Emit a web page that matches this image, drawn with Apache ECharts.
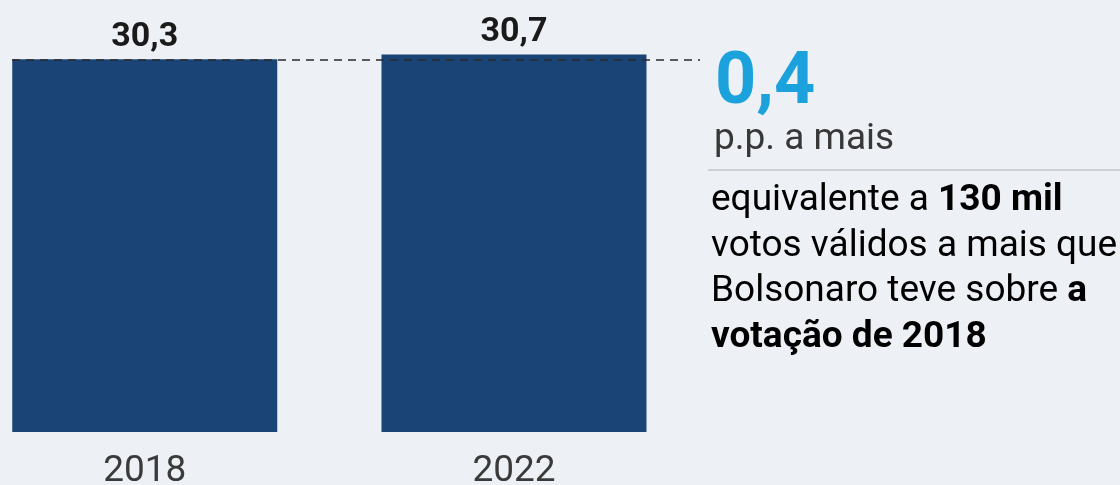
<!DOCTYPE html>
<html>
<head>
<meta charset="utf-8">
<style>
  html, body { margin: 0; padding: 0; background: #edf0f4; }
  #chart { width: 1120px; height: 485px; }
</style>
<script src="https://cdn.jsdelivr.net/npm/echarts@6/dist/echarts.min.js"></script>
</head>
<body>
<div id="chart"></div>
<script>
// ---- data ----
const categories = ['2018', '2022'];
const values = [30.3, 30.7];
const unitText = 'p.p. a mais';
const noteLines = [
  [{ t: 'equivalente a ', b: false }, { t: '130 mil', b: true }],
  [{ t: 'votos válidos a mais que', b: false }],
  [{ t: 'Bolsonaro teve sobre ', b: false }, { t: 'a', b: true }],
  [{ t: 'votação de 2018', b: true }]
];

const fmt = v => String(v).replace('.', ',');
const diffText = fmt((values[1] - values[0]).toFixed(1));
const catIndex = categories.map((c, i) => i);

const FONT = 'Roboto, "Noto Sans", sans-serif';
const chart = echarts.init(document.getElementById('chart'));

const noteGraphics = noteLines.map((parts, i) => ({
  type: 'text',
  left: 711,
  top: 200.6 + i * 45.7 - 18.5,
  silent: true,
  style: {
    text: parts.map(p => (p.b ? '{b|' : '{n|') + p.t + '}').join(''),
    rich: {
      n: { fontFamily: FONT, fontSize: 37, lineHeight: 37, color: '#383838' },
      b: { fontFamily: FONT, fontSize: 37, lineHeight: 37, fontWeight: 'bold', color: '#2a2a2a' }
    }
  }
}));

chart.setOption({
  backgroundColor: '#edf0f4',
  animation: false,
  grid: { left: 0, right: 421.4, top: 38.4, bottom: 53, containLabel: false, outerBoundsMode: 'none' },
  xAxis: {
    type: 'value',
    min: -0.392,
    max: 1.5,
    splitLine: { show: false },
    axisLine: { show: false },
    axisTick: { show: false },
    axisLabel: {
      customValues: catIndex,
      formatter: v => categories[Math.round(v)] || '',
      margin: 21,
      fontFamily: FONT,
      fontSize: 37,
      lineHeight: 37,
      color: '#3a3a3a'
    }
  },
  yAxis: {
    type: 'value',
    min: 0,
    max: 32,
    show: false,
    splitLine: { show: false }
  },
  series: [{
    type: 'bar',
    data: values.map((v, i) => [catIndex[i], v]),
    barWidth: 265,
    itemStyle: { color: '#1b4476' },
    label: {
      show: true,
      position: 'top',
      distance: 5,
      formatter: p => fmt(p.value[1]),
      fontFamily: FONT,
      fontSize: 34,
      lineHeight: 34,
      fontWeight: 'bold',
      color: '#1a1a1a'
    },
    markLine: {
      silent: true,
      symbol: 'none',
      label: { show: false },
      lineStyle: { color: '#2a2a2a', type: [8, 6], width: 1.5 },
      data: [[{ x: 12, yAxis: values[0] }, { x: 700, yAxis: values[0] }]]
    }
  }],
  graphic: [
    {
      type: 'text',
      left: 715,
      top: 84.5 - 36,
      silent: true,
      style: {
        text: diffText,
        fontFamily: FONT,
        fontSize: 72,
        lineHeight: 72,
        fontWeight: 'bold',
        fill: '#1ba2dc'
      }
    },
    {
      type: 'text',
      left: 714,
      top: 139.5 - 18.5,
      silent: true,
      style: {
        text: unitText,
        fontFamily: FONT,
        fontSize: 37,
        lineHeight: 37,
        fill: '#383838'
      }
    },
    {
      type: 'line',
      silent: true,
      shape: { x1: 708, y1: 170, x2: 1120, y2: 170 },
      style: { stroke: '#cdd1d6', lineWidth: 2 }
    }
  ].concat(noteGraphics)
});
</script>
</body>
</html>
